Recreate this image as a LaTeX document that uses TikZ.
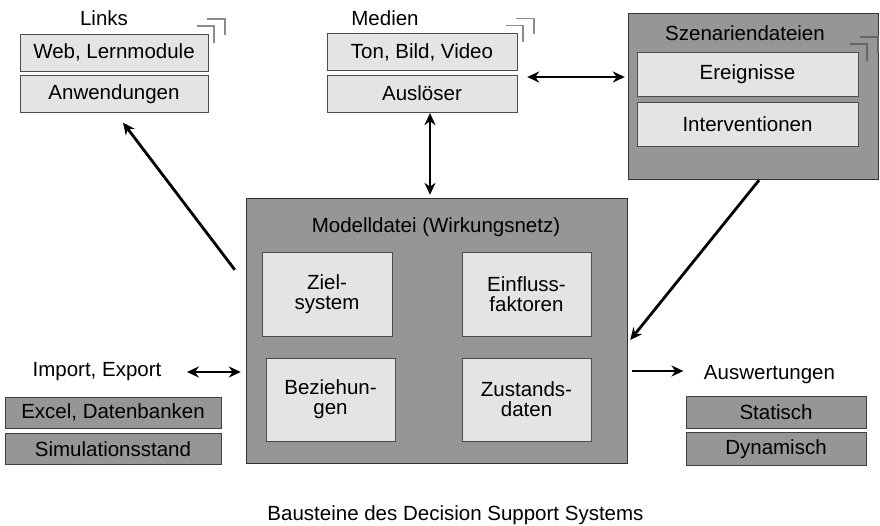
\documentclass[tikz,border=0pt]{standalone}
\usepackage{fontspec}
\setmainfont{Liberation Sans}
\usepackage{tikz}
\usetikzlibrary{arrows.meta, positioning}
\definecolor{boxlight}{HTML}{E4E4E4}
\definecolor{boxdark}{HTML}{969696}
\definecolor{markgray}{HTML}{8C8C8C}
\newcommand{\stackmark}[2][markgray]{%
  \draw[#1, line width=1.5pt] (#2) ++(-1pt,15pt) -- ++(18pt,0pt) -- ++(0pt,-16pt);
  \draw[#1, line width=1.5pt] (#2) ++(-11pt,8pt) -- ++(17pt,0pt) -- ++(0pt,-17pt);}

\begin{document}
\begin{tikzpicture}[
    x=1pt, y=-1pt,
    every node/.style={font=\fontsize{20.5}{20}\selectfont, text=black},
    light/.style={draw=black!70, fill=boxlight, minimum height=37pt,
                  inner sep=0pt},
    dark/.style={draw=black!75, fill=boxdark, minimum height=32pt,
                 inner sep=0pt},
    part/.style={draw=black!70, fill=boxlight, minimum width=129pt,
                 minimum height=84pt, align=center, inner sep=0pt},
    arr/.style={-{Stealth[length=12pt, width=11pt]}, line width=2.8pt},
    dbl/.style={{Stealth[length=12pt, width=11pt]}-{Stealth[length=12pt, width=11pt]},
                line width=2.8pt}
  ]
    \useasboundingbox (0,0) rectangle (880,526);

    % Links
    \node (links) at (104,18) {Links};
    \node[light, minimum width=188pt] (web) at (114,52.5) {Web, Lernmodule};
    \node[light, minimum width=188pt, below=4pt of web] (anw) {Anwendungen};
    \stackmark{web.north east}

    % Medien
    \node (medien) at (385,18) {Medien};
    \node[light, minimum width=190pt] (ton) at (422,52) {Ton, Bild, Video};
    \node[light, minimum width=190pt, below=4pt of ton] (ausl) {Auslöser};
    \stackmark{ton.north east}

    % Szenariendateien
    \node[draw=black!80, fill=boxdark, minimum width=250pt,
          minimum height=166pt] (szen) at (753,96) {};
    \node (szenlbl) at (745,33) {Szenariendateien};
    \node[light, minimum width=221pt, minimum height=44pt] (ereig)
      at (747.5,74) {Ereignisse};
    \node[light, minimum width=221pt, minimum height=44pt,
          below=6pt of ereig] (interv) {Interventionen};
    \stackmark[black!60]{[xshift=3pt]ereig.north east}

    % Modelldatei
    \node[draw=black!80, fill=boxdark, minimum width=381pt,
          minimum height=265pt] (model) at (436.5,330.5) {};
    \node (modellbl) at (436,227) {Modelldatei (Wirkungsnetz)};
    \node[part, minimum width=130pt] (ziel) at (327,294) {Ziel-\\system};
    \node[part] (einfl) at (526.5,294) {Einfluss-\\faktoren};
    \node[part, minimum height=83pt] (bez) at (330.5,399.5) {Beziehun-\\gen};
    \node[part, minimum height=83pt] (zust) at (526.5,399.5) {Zustands-\\daten};

    % Import, Export
    \node (imp) at (97,372) {Import, Export};
    \node[dark, minimum width=216pt, minimum height=31pt] (excel)
      at (113,412.5) {Excel, Datenbanken};
    \node[dark, minimum width=216pt, minimum height=31pt,
          below=5pt of excel] (simul) {Simulationsstand};

    % Auswertungen
    \node (ausw) at (769.5,375) {Auswertungen};
    \node[dark, minimum width=180pt] (stat) at (776,412) {Statisch};
    \node[dark, minimum width=180pt, minimum height=33pt,
          below=4pt of stat] (dyn) {Dynamisch};

    % Titel
    \node (title) at (455.5,515) {Bausteine des Decision Support Systems};

    % Arrows
    \draw[arr] ([xshift=-11pt,yshift=-72pt]model.north west)
      -- ([xshift=9pt,yshift=-10pt]anw.south);
    \draw[dbl] ([xshift=8pt,yshift=-1pt]ausl.south)
      -- ([xshift=-6.5pt,yshift=3pt]model.north);
    \draw[dbl] ([xshift=10pt,yshift=-25pt]ton.east)
      -- ([xshift=-3pt,yshift=19pt]szen.west);
    \draw[arr] ([xshift=6pt,yshift=-1pt]szen.south)
      -- ([xshift=3pt,yshift=-9.5pt]model.east);
    \draw[dbl] ([xshift=22pt]imp.east)
      -- ([xshift=-5pt,yshift=-41.5pt]model.west);
    \draw[arr] ([xshift=5pt,yshift=-40.5pt]model.east)
      -- ([xshift=-17pt,yshift=4pt]ausw.west);
\end{tikzpicture}
\end{document}
